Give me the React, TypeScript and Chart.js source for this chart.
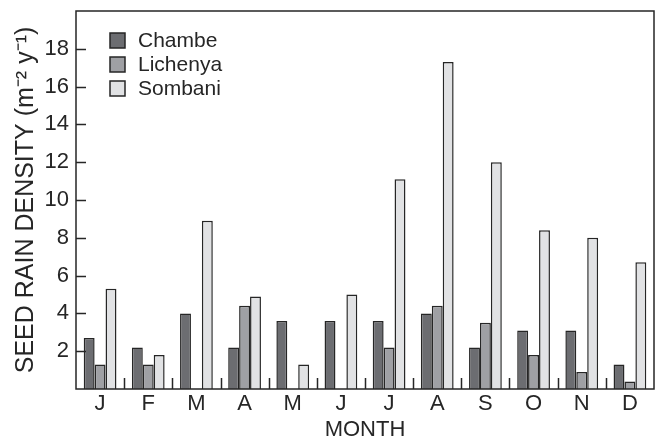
import React, { useEffect, useRef } from "react";
import { Chart, registerables } from "chart.js";

Chart.register(...registerables);

const months = ["J", "F", "M", "A", "M", "J", "J", "A", "S", "O", "N", "D"];
const chambe = [2.7, 2.2, 4.0, 2.2, 3.6, 3.6, 3.6, 4.0, 2.2, 3.1, 3.1, 1.3];
const lichenya = [1.3, 1.3, 0, 4.4, 0, 0, 2.2, 4.4, 3.5, 1.8, 0.9, 0.4];
const sombani = [5.3, 1.8, 8.9, 4.9, 1.3, 5.0, 11.1, 17.3, 12.0, 8.4, 8.0, 6.7];
const seriesNames = ["Chambe", "Lichenya", "Sombani"];
const seriesColors = ["#6c6d71", "#9fa0a4", "#e1e2e4"];
const yTickValues = [2, 4, 6, 8, 10, 12, 14, 16, 18];

const INK = "#262626";
const FONT = "'Liberation Sans', Arial, Helvetica, sans-serif";

const framePlugin = {
  id: "framePlugin",
  afterDatasetsDraw(chart: any) {
    const { ctx, chartArea } = chart;
    const { left, right, top, bottom } = chartArea;
    const xs = chart.scales.x;
    const ys = chart.scales.y;
    ctx.save();
    ctx.strokeStyle = INK;
    ctx.lineWidth = 1.5;
    ctx.strokeRect(left, top, right - left, bottom - top);
    ctx.beginPath();
    yTickValues.forEach((v) => {
      const y = Math.round(ys.getPixelForValue(v)) + 0.5;
      ctx.moveTo(left, y);
      ctx.lineTo(left + 10, y);
    });
    const n = months.length;
    const w = (right - left) / n;
    for (let i = 1; i < n; i++) {
      const x = Math.round(xs.getPixelForValue(i) - w / 2) + 0.5;
      ctx.moveTo(x, bottom);
      ctx.lineTo(x, bottom - 11);
    }
    ctx.stroke();

    ctx.font = `21px ${FONT}`;
    ctx.textBaseline = "middle";
    ctx.textAlign = "left";
    chart.data.datasets.forEach((ds: any, i: number) => {
      const bx = left + 34;
      const by = top + 22 + i * 24;
      ctx.fillStyle = ds.backgroundColor;
      ctx.fillRect(bx, by, 15, 15);
      ctx.lineWidth = 1.5;
      ctx.strokeStyle = INK;
      ctx.strokeRect(bx, by, 15, 15);
      ctx.fillStyle = INK;
      ctx.fillText(ds.label, bx + 28, by + 8);
    });
    ctx.restore();
  },
};

export default function App() {
  const canvasRef = useRef<HTMLCanvasElement | null>(null);

  useEffect(() => {
    if (!canvasRef.current) return;
    const datasets = [chambe, lichenya, sombani].map((d, i) => ({
      label: seriesNames[i],
      data: d,
      backgroundColor: seriesColors[i],
      borderColor: INK,
      borderWidth: 1.5,
      categoryPercentage: 0.68,
      barPercentage: 1.0,
    }));
    const chart = new Chart(canvasRef.current, {
      type: "bar",
      data: { labels: months, datasets },
      options: {
        animation: false,
        responsive: true,
        maintainAspectRatio: false,
        layout: { padding: { top: 11, right: 3, left: 0, bottom: 0 } },
        plugins: {
          legend: { display: false },
          tooltip: { enabled: false },
        },
        scales: {
          x: {
            grid: { display: false, drawTicks: false },
            border: { display: false },
            ticks: {
              color: INK,
              padding: 2,
              font: { family: FONT, size: 22 },
              maxRotation: 0,
            },
            title: {
              display: true,
              text: "MONTH",
              color: INK,
              font: { family: FONT, size: 22 },
              padding: { top: 0, bottom: 0 },
            },
            afterFit(scale: any) {
              scale.height = 54;
              scale.paddingLeft = 0;
              scale.paddingRight = 0;
            },
          },
          y: {
            min: 0,
            max: 20,
            grid: { display: false, drawTicks: false },
            border: { display: false },
            ticks: {
              stepSize: 2,
              color: INK,
              padding: 7,
              font: { family: FONT, size: 22 },
              callback: (v: any) => (yTickValues.includes(Number(v)) ? String(v) : ""),
            },
            title: {
              display: true,
              text: "SEED RAIN DENSITY (m\u207B\u00B2 y\u207B\u00B9)",
              color: INK,
              font: { family: FONT, size: 25 },
              padding: { top: 11, bottom: 0 },
            },
            afterFit(scale: any) {
              scale.width = 76;
              scale.paddingTop = 0;
              scale.paddingBottom = 0;
            },
          },
        },
      },
      plugins: [framePlugin],
    });
    return () => chart.destroy();
  }, []);

  return (
    <div style={{ position: "absolute", left: 0, top: 0, width: 657, height: 443, background: "#fff" }}>
      <canvas ref={canvasRef} />
    </div>
  );
}
